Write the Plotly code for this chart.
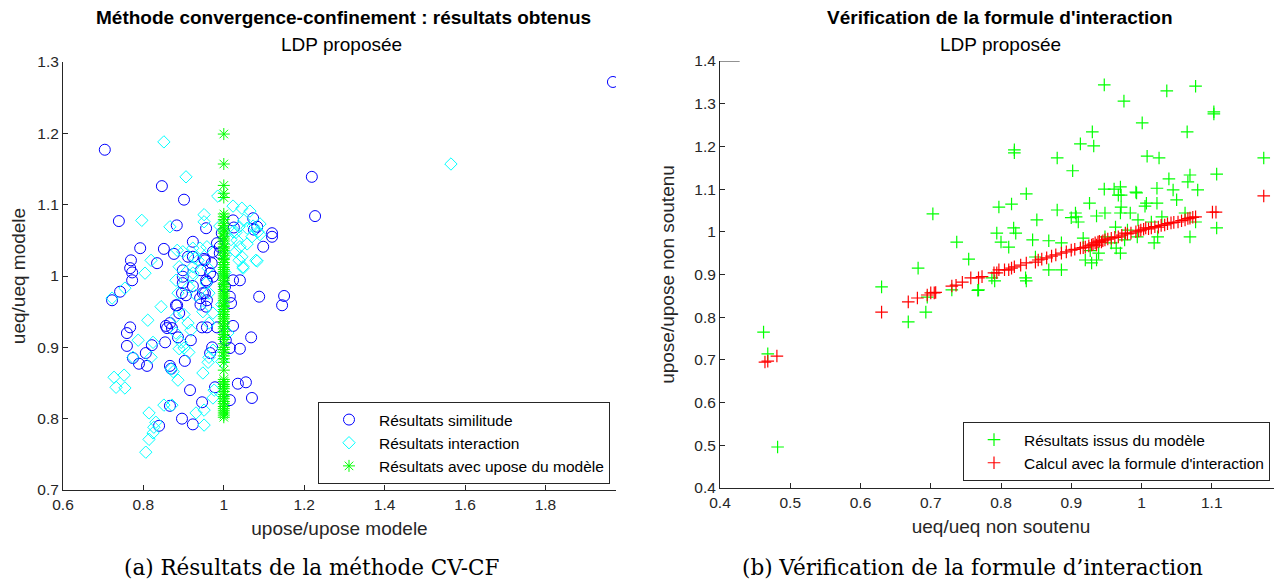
import plotly.graph_objects as go

# ---------------- Left chart data ----------------
sim_x = [0.704, 0.846, 0.901, 1.219, 1.227, 0.739, 0.883, 0.956, 1.073, 1.083,
         1.075, 1.120, 1.120, 1.098, 0.923, 0.792, 0.851, 0.876, 0.769, 0.767,
         0.834, 0.911, 0.923, 0.772, 0.772, 0.898, 0.898, 0.953, 0.742, 0.722,
         1.040, 1.088, 1.150, 1.145, 0.898, 0.896, 0.884, 0.923, 0.953, 0.958,
         0.941, 1.018, 0.767, 0.759, 0.759, 0.774, 0.789, 0.809, 0.806, 0.821,
         0.854, 0.866, 0.871, 0.859, 0.886, 0.918, 0.903, 0.866, 0.869, 0.946,
         0.958, 0.983, 0.971, 0.966, 1.040, 1.068, 1.015, 0.916, 0.946, 0.978,
         1.015, 1.035, 1.055, 1.070, 0.866, 0.896, 0.923, 0.839, 1.968, 1.023,
         1.025, 0.951, 0.973, 0.943, 0.956, 0.973, 0.948, 0.906, 0.881, 0.889,
         0.956, 1.023, 1.015, 0.983, 0.990, 0.970, 0.966, 0.958, 1.023, 0.942,
         1.003, 0.995, 1.005, 0.990, 0.856]
sim_y = [1.177, 1.126, 1.107, 1.139, 1.084, 1.077, 1.071, 1.067, 1.081, 1.069,
         1.065, 1.060, 1.055, 1.041, 1.048, 1.039, 1.038, 1.031, 1.022, 1.011,
         1.018, 1.027, 1.027, 1.005, 0.994, 1.008, 0.999, 1.022, 0.978, 0.966,
         0.994, 0.971, 0.972, 0.959, 0.990, 0.976, 0.959, 0.986, 0.976, 0.966,
         0.969, 0.962, 0.928, 0.920, 0.902, 0.885, 0.877, 0.874, 0.892, 0.903,
         0.907, 0.934, 0.927, 0.927, 0.914, 0.910, 0.881, 0.874, 0.870, 0.928,
         0.928, 0.928, 0.900, 0.892, 0.898, 0.914, 0.899, 0.840, 0.823, 0.844,
         0.826, 0.849, 0.851, 0.829, 0.818, 0.800, 0.792, 0.790, 1.272, 1.078,
         1.068, 1.024, 1.034, 1.008, 0.994, 0.999, 0.976, 0.973, 0.959, 0.948,
         0.957, 0.994, 0.971, 1.046, 1.041, 1.018, 1.004, 0.992, 0.930, 0.960,
         0.985, 1.060, 0.910, 1.032, 0.930]

int_x = [0.851, 0.906, 0.985, 0.796, 0.866, 0.951, 0.951, 1.023, 1.045, 1.065,
         1.050, 1.058, 1.073, 1.085, 1.090, 1.023, 1.033, 1.040, 1.045, 1.048,
         1.083, 0.958, 0.941, 0.928, 0.923, 0.921, 0.884, 0.804, 0.754, 0.722,
         0.819, 0.898, 0.923, 0.936, 0.889, 0.881, 0.886, 0.923, 0.913, 0.931,
         0.961, 0.956, 0.963, 0.844, 0.811, 0.881, 0.901, 0.911, 0.948, 0.973,
         0.963, 1.038, 1.048, 1.030, 1.018, 1.030, 1.038, 1.080, 1.058, 1.070,
         1.090, 0.787, 0.824, 0.819, 0.774, 0.727, 0.752, 0.732, 0.754, 0.869,
         0.874, 0.886, 0.881, 0.894, 0.901, 0.913, 0.889, 0.918, 0.948, 0.961,
         0.963, 0.973, 0.976, 0.973, 0.814, 0.851, 0.826, 0.824, 0.814, 0.806,
         0.931, 0.951, 0.951, 0.831, 0.871, 1.565, 0.995, 1.005, 0.990, 1.010,
         0.995, 1.003]
int_y = [1.188, 1.139, 1.112, 1.078, 1.069, 1.086, 1.076, 1.098, 1.095, 1.091,
         1.078, 1.067, 1.070, 1.062, 1.058, 1.062, 1.050, 1.041, 1.027, 1.013,
         1.021, 1.041, 1.039, 1.025, 1.013, 0.999, 1.036, 1.004, 0.983, 0.969,
         1.022, 1.034, 1.039, 1.022, 1.013, 0.994, 0.976, 1.004, 0.985, 0.973,
         1.011, 0.990, 0.976, 0.957, 0.938, 0.943, 0.946, 0.934, 0.950, 0.948,
         0.934, 1.022, 1.011, 1.034, 1.051, 1.061, 1.069, 1.022, 1.045, 1.055,
         1.073, 0.910, 0.907, 0.886, 0.886, 0.858, 0.861, 0.844, 0.843, 0.870,
         0.866, 0.854, 0.920, 0.907, 0.899, 0.893, 0.898, 0.924, 0.864, 0.879,
         0.886, 0.896, 0.840, 0.829, 0.808, 0.819, 0.788, 0.780, 0.771, 0.753,
         0.808, 0.812, 0.791, 0.795, 0.819, 1.157, 0.960, 1.030, 1.070, 0.920,
         0.880, 1.005]

mod_y = [1.199, 1.157, 1.127, 1.116, 1.110, 1.087, 1.083, 1.079, 1.074, 1.071,
         1.066, 1.063, 1.060, 1.055, 1.052, 1.049, 1.045, 1.041, 1.039, 1.036,
         1.032, 1.029, 1.025, 1.023, 1.019, 1.016, 1.012, 1.009, 1.006, 1.003,
         1.000, 0.997, 0.994, 0.990, 0.988, 0.985, 0.981, 0.978, 0.975, 0.972,
         0.969, 0.966, 0.962, 0.959, 0.957, 0.953, 0.950, 0.946, 0.943, 0.940,
         0.936, 0.933, 0.929, 0.926, 0.922, 0.918, 0.914, 0.911, 0.905, 0.900,
         0.897, 0.893, 0.888, 0.884, 0.879, 0.868, 0.855, 0.852, 0.848, 0.845,
         0.842, 0.838, 0.834, 0.831, 0.828, 0.824, 0.821, 0.817, 0.814, 0.811,
         0.808, 0.805, 0.802]
mod_x = [1.0] * len(mod_y)

# ---------------- Right chart data ----------------
iss_x = [0.947, 0.975, 1.036, 1.077, 1.103, 1.103, 1.001, 0.930, 0.932, 0.913,
         1.065, 0.819, 0.819, 0.880, 1.008, 1.025, 0.902, 1.174, 1.107, 1.039,
         1.069, 1.066, 1.080, 1.045, 0.947, 0.961, 0.970, 0.967, 0.971, 0.992,
         0.993, 1.022, 0.836, 1.050, 1.007, 1.005, 1.022, 0.926, 0.797, 0.815,
         0.703, 0.880, 0.971, 0.984, 0.970, 0.906, 0.907, 0.910, 0.900, 0.948,
         0.936, 0.851, 0.995, 1.014, 1.062, 1.077, 1.107, 1.069, 1.029, 0.818,
         0.821, 0.794, 0.800, 0.811, 0.737, 0.845, 0.868, 0.886, 0.917, 0.963,
         0.948, 0.957, 0.964, 0.970, 0.980, 0.994, 0.976, 1.023, 1.018, 0.754,
         0.682, 0.835, 0.868, 0.886, 0.920, 0.929, 0.936, 0.939, 0.927, 0.768,
         0.730, 0.787, 0.849, 0.630, 0.668, 0.693, 0.695, 0.462, 0.468, 0.482,
         0.767, 0.791, 0.836]
iss_y = [1.344, 1.306, 1.330, 1.341, 1.281, 1.276, 1.255, 1.234, 1.201, 1.206,
         1.234, 1.192, 1.185, 1.173, 1.177, 1.173, 1.143, 1.173, 1.135, 1.124,
         1.133, 1.117, 1.098, 1.098, 1.100, 1.100, 1.105, 1.086, 1.086, 1.093,
         1.091, 1.102, 1.089, 1.075, 1.067, 1.060, 1.067, 1.067, 1.058, 1.065,
         1.042, 1.051, 1.058, 1.044, 1.044, 1.044, 1.035, 1.023, 1.033, 1.044,
         1.037, 1.028, 1.028, 1.023, 1.044, 1.023, 1.009, 0.988, 1.035, 1.009,
         0.997, 0.997, 0.976, 0.964, 0.976, 0.981, 0.979, 0.974, 0.985, 1.011,
         0.988, 0.974, 0.962, 0.950, 1.004, 0.988, 0.981, 0.988, 0.974, 0.936,
         0.915, 0.892, 0.911, 0.911, 0.934, 0.927, 0.934, 0.950, 0.956, 0.864,
         0.864, 0.892, 0.941, 0.871, 0.789, 0.812, 0.847, 0.765, 0.714, 0.496,
         0.863, 0.885, 0.885]

calc_x = [0.464, 0.468, 0.481, 0.630, 0.668, 0.681, 0.695, 0.700, 0.705, 0.730,
          0.736, 0.757, 0.768, 0.790, 0.794, 0.797, 0.811, 0.815, 0.819, 0.836,
          0.849, 0.853, 0.865, 0.878, 0.886, 0.900, 0.913, 0.920, 0.929, 0.934,
          0.938, 0.943, 0.948, 0.957, 0.967, 0.977, 0.985, 0.992, 0.999, 1.006,
          1.014, 1.024, 1.033, 1.042, 1.052, 1.062, 1.069, 1.077, 1.101, 1.106,
          1.174, 0.925, 0.931, 0.936, 0.940, 0.945, 0.952, 0.962, 0.972, 0.980,
          0.996, 1.003, 1.010, 1.019, 1.028, 1.037, 1.046, 1.057, 1.066, 1.073,
          0.905, 0.917, 0.893, 0.872, 0.858, 0.828, 0.805, 0.773, 0.745, 0.707]
calc_y = [0.695, 0.697, 0.709, 0.812, 0.836, 0.845, 0.852, 0.857, 0.857, 0.873,
          0.875, 0.892, 0.892, 0.904, 0.904, 0.911, 0.911, 0.915, 0.918, 0.927,
          0.929, 0.934, 0.939, 0.946, 0.950, 0.957, 0.962, 0.964, 0.969, 0.974,
          0.976, 0.976, 0.981, 0.985, 0.988, 0.997, 0.997, 1.000, 1.004, 1.009,
          1.009, 1.011, 1.016, 1.021, 1.023, 1.028, 1.032, 1.035, 1.046, 1.046,
          1.084, 0.967, 0.971, 0.969, 0.978, 0.979, 0.983, 0.987, 0.992, 0.995,
          1.002, 1.006, 1.007, 1.012, 1.015, 1.019, 1.022, 1.026, 1.031, 1.034,
          0.959, 0.963, 0.953, 0.943, 0.936, 0.922, 0.911, 0.895, 0.882, 0.858]

left_xticks = [0.6, 0.8, 1.0, 1.2, 1.4, 1.6, 1.8]
left_yticks = [0.7, 0.8, 0.9, 1.0, 1.1, 1.2, 1.3]
right_xticks = [0.4, 0.5, 0.6, 0.7, 0.8, 0.9, 1.0, 1.1, 1.2]
right_yticks = [0.4, 0.5, 0.6, 0.7, 0.8, 0.9, 1.0, 1.1, 1.2, 1.3, 1.4]

# page body has an 8px margin: the figure is placed 8px right/down of the window corner
OFF = 8
W, H = 1282 - OFF, 586 - OFF
def px(v):
    return (v - OFF) / W
def py(v):
    return 1 - (v - OFF) / H

AX = '#262626'
FONT = 'Liberation Sans'
SERIF = 'DejaVu Serif'

def fmt(v):
    return '%g' % v

fig = go.Figure()
fig.add_trace(go.Scatter(x=sim_x, y=sim_y, mode='markers', name='Résultats similitude',
                         marker=dict(symbol='circle-open', size=11, color='#0000ff',
                                     line=dict(width=1, color='#0000ff')),
                         xaxis='x', yaxis='y', legend='legend'))
fig.add_trace(go.Scatter(x=int_x, y=int_y, mode='markers', name='Résultats interaction',
                         marker=dict(symbol='diamond-open', size=9.5, color='#00ffff',
                                     line=dict(width=1, color='#00ffff')),
                         xaxis='x', yaxis='y', legend='legend'))
fig.add_trace(go.Scatter(x=mod_x, y=mod_y, mode='markers', name='Résultats avec upose du modèle',
                         marker=dict(symbol='asterisk-open', size=10, color='#00ff00',
                                     line=dict(width=1, color='#00ff00')),
                         xaxis='x', yaxis='y', legend='legend'))
fig.add_trace(go.Scatter(x=iss_x, y=iss_y, mode='markers', name='Résultats issus du modèle',
                         marker=dict(symbol='cross-thin-open', size=9, color='#00ff00',
                                     line=dict(width=1.2, color='#00ff00')),
                         xaxis='x2', yaxis='y2', legend='legend2'))
fig.add_trace(go.Scatter(x=calc_x, y=calc_y, mode='markers', name="Calcul avec la formule d'interaction",
                         marker=dict(symbol='cross-thin-open', size=9, color='#ff0000',
                                     line=dict(width=1.2, color='#ff0000')),
                         xaxis='x2', yaxis='y2', legend='legend2'))

axis_common = dict(showgrid=False, zeroline=False, showline=True, linecolor=AX, linewidth=1,
                   ticks='inside', ticklen=5, tickcolor=AX, tickwidth=1, automargin=False,
                   tickfont=dict(family=FONT, size=15.5, color=AX), mirror=False)
title_font = dict(family=FONT, size=19, color=AX)

fig.update_layout(
    width=W, height=H, margin=dict(l=0, r=0, t=0, b=0, autoexpand=False),
    paper_bgcolor='white', plot_bgcolor='white',
    xaxis=dict(domain=[px(63), px(616)], range=[0.6, 1.9756], tickvals=left_xticks,
               ticktext=[fmt(v) for v in left_xticks],
               title=dict(text='upose/upose modele', standoff=10, font=title_font),
               anchor='y', **axis_common),
    yaxis=dict(domain=[py(490), py(62)], range=[0.7, 1.3], tickvals=left_yticks,
               ticktext=[fmt(v) for v in left_yticks],
               title=dict(text='ueq/ueq modele', standoff=9, font=title_font),
               anchor='x', **axis_common),
    xaxis2=dict(domain=[px(720), 1.0], range=[0.4, 1.2], tickvals=right_xticks,
                ticktext=[fmt(v) for v in right_xticks],
                title=dict(text='ueq/ueq non soutenu', standoff=10, font=title_font),
                anchor='y2', **axis_common),
    yaxis2=dict(domain=[py(488), py(61)], range=[0.4, 1.4], tickvals=right_yticks,
                ticktext=[fmt(v) for v in right_yticks],
                title=dict(text='upose/upose non soutenu', standoff=14, font=title_font),
                anchor='x2', **axis_common),
    legend=dict(x=px(318), y=py(402), xanchor='left', yanchor='top',
                bgcolor='white', bordercolor=AX, borderwidth=1,
                font=dict(family=FONT, size=15.5, color='#000000'),
                itemwidth=50, tracegroupgap=0),
    legend2=dict(x=px(963), y=py(422), xanchor='left', yanchor='top',
                 bgcolor='white', bordercolor=AX, borderwidth=1,
                 font=dict(family=FONT, size=15.5, color='#000000'),
                 itemwidth=50, tracegroupgap=0),
    showlegend=True,
)

fig.add_shape(type='line', xref='x2', yref='y2', x0=0.4, x1=0.428, y0=1.4, y1=1.4,
              line=dict(color=AX, width=1))

annots = [
    (343, 17, '<b>Méthode convergence-confinement : résultats obtenus</b>', FONT, 19, '#000000'),
    (341, 45, 'LDP proposée', FONT, 19, '#000000'),
    (1000, 17, "<b>Vérification de la formule d'interaction</b>", FONT, 19, '#000000'),
    (1000, 45, 'LDP proposée', FONT, 19, '#000000'),
    (311, 567, '(a) Résultats de la méthode CV-CF', SERIF, 21.5, '#000000'),
    (972, 567, '(b) Vérification de la formule d’interaction', SERIF, 21.5, '#000000'),
]
for ax_, ay_, txt, fam, sz, col in annots:
    fig.add_annotation(x=px(ax_), y=py(ay_), xref='paper', yref='paper', text=txt,
                       showarrow=False, xanchor='center', yanchor='middle',
                       font=dict(family=fam, size=sz, color=col))

fig.write_html('out.html')
